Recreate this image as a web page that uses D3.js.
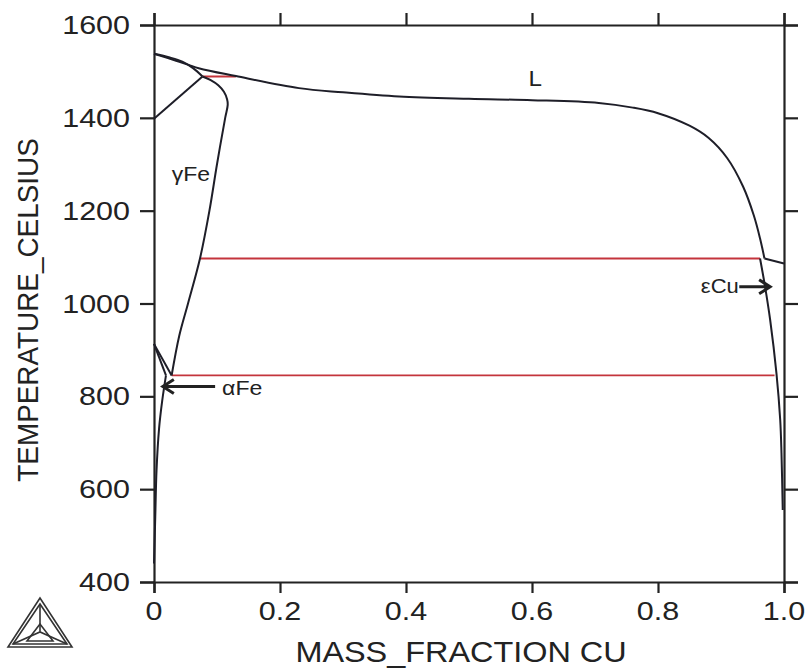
<!DOCTYPE html>
<html>
<head>
<meta charset="UTF-8">
<title>Fe-Cu</title>
<script src="https://d3js.org/d3.v7.min.js"></script>
<style>
  body {margin:0; background:#fff;}
  svg {display:block; background:#fff;}
  text {font-family:"Liberation Sans", Arial, sans-serif; fill:#222;}
  .frame path, .frame line {stroke:#222; stroke-width:2.2;}
  .curve {fill:none; stroke:#1e1e28; stroke-width:2;}
  .tie {fill:none; stroke:#c4343c; stroke-width:1.8;}
  .arrow {fill:none; stroke:#222; stroke-width:3;}
</style>
</head>
<body>
<script>
  // ticks
  var xTicks = [0, 0.2, 0.4, 0.6, 0.8, 1.0],
      xTickLabels = ["0", "0.2", "0.4", "0.6", "0.8", "1.0"],
      yTicks = [400, 600, 800, 1000, 1200, 1400, 1600];

  // phase boundaries, [mass fraction Cu, T celsius]
  var liquidus = [[0,1538],[0.035,1523],[0.071,1507],[0.13,1490],[0.23,1464],[0.3,1455],
                  [0.389,1446],[0.5,1441],[0.6,1438],[0.706,1432],[0.76,1422],[0.8,1410],
                  [0.85,1383],[0.88,1357],[0.91,1313],[0.935,1252],[0.952,1190],[0.962,1140],[0.969,1097]];
  var deltaSolidus = [[0,1538],[0.025,1530],[0.045,1521],[0.062,1507],[0.077,1489]];
  var deltaGamma = [[0,1398],[0.077,1489]];
  var gammaBoundary = [[0.077,1489],[0.090,1481],[0.102,1470],[0.111,1456],[0.116,1440],
                       [0.117,1428],[0.113,1400],[0.100,1300],[0.088,1200],[0.073,1097],
                       [0.054,1000],[0.040,930],[0.028,845]];
  var gammaAlpha = [[0,913],[0.028,845]];
  var alphaGamma = [[0,913],[0.019,845]];
  var alphaSolvus = [[0.019,845],[0.013,790],[0.008,730],[0.004,640],[0.002,540],[0,440]];
  var epsSolvus = [[0.962,1097],[0.970,1036],[0.978,965],[0.988,850],[0.994,749],[0.996,678],[0.998,555]];
  var cuLiquidus = [[0.969,1097],[1.0,1086]];
  // invariant lines (red)
  var peritecticFe = [[0.077,1489],[0.13,1489]];
  var peritecticCu = [[0.073,1097],[0.962,1097]];
  var eutectoid = [[0.028,845],[0.985,845]];

  var svg = d3.select("body").append("svg")
      .attr("width", 806)
      .attr("height", 669);

  var x = d3.scaleLinear().domain([0, 1]).range([154, 784]);
  var y = d3.scaleLinear().domain([400, 1600]).range([582, 25]);

  // frame with outward ticks on all sides
  svg.append("g").attr("class","frame").attr("transform","translate(154,0)")
     .call(d3.axisLeft(y).tickValues(yTicks).tickSize(14).tickFormat(""));
  svg.append("g").attr("class","frame").attr("transform","translate(784,0)")
     .call(d3.axisRight(y).tickValues(yTicks).tickSize(14).tickFormat(""));
  svg.append("g").attr("class","frame").attr("transform","translate(0,25)")
     .call(d3.axisTop(x).tickValues(xTicks).tickSize(12).tickFormat(""));
  svg.append("g").attr("class","frame").attr("transform","translate(0,582)")
     .call(d3.axisBottom(x).tickValues(xTicks).tickSize(11).tickFormat(""));

  function label(px, py, str, size, sx, anchor) {
    return svg.append("text")
      .attr("transform", "translate(" + px + "," + py + ") scale(" + sx + ",1)")
      .attr("text-anchor", anchor || "start")
      .style("font-size", size + "px")
      .text(str);
  }

  yTicks.forEach(function(t) { label(130, y(t) + 9, t, 25, 1.22, "end"); });
  xTicks.forEach(function(t, i) { label(x(t), 620, xTickLabels[i], 25, 1.22, "middle"); });

  label(461, 662, "MASS_FRACTION CU", 30, 1.08, "middle");
  svg.append("text")
     .attr("transform", "translate(38,310) rotate(-90) scale(0.93,1)")
     .attr("text-anchor", "middle")
     .style("font-size", "30px")
     .text("TEMPERATURE_CELSIUS");

  // curves
  var smooth = d3.line().x(function(d){return x(d[0]);}).y(function(d){return y(d[1]);})
                 .curve(d3.curveCatmullRom.alpha(0.5));
  var straight = d3.line().x(function(d){return x(d[0]);}).y(function(d){return y(d[1]);});

  [peritecticFe, peritecticCu, eutectoid].forEach(function(d) {
    svg.append("path").attr("class","tie").attr("d", straight(d));
  });
  [liquidus, deltaSolidus, gammaBoundary, alphaSolvus, epsSolvus].forEach(function(d) {
    svg.append("path").attr("class","curve").attr("d", smooth(d));
  });
  [deltaGamma, gammaAlpha, alphaGamma, cuLiquidus].forEach(function(d) {
    svg.append("path").attr("class","curve").attr("d", straight(d));
  });

  // phase labels
  label(x(0.605), y(1442) - 12, "L", 22, 1.1, "middle");
  label(x(0.028), 181, "\u03b3Fe", 20, 1.15, "start");
  label(x(0.108), 395, "\u03b1Fe", 21, 1.1, "start");
  label(x(0.868), 293, "\u03b5Cu", 20, 1.1, "start");

  // arrows
  function arrow(x1, x2, t) {
    var px1 = x(x1), px2 = x(x2), py = y(t), dir = px2 > px1 ? -1 : 1;
    svg.append("path").attr("class","arrow")
       .attr("d", "M" + px1 + "," + py + "L" + px2 + "," + py +
                  "M" + (px2 + dir*11) + "," + (py - 7) + "L" + px2 + "," + py +
                  "L" + (px2 + dir*11) + "," + (py + 7));
  }
  arrow(0.097, 0.014, 821);
  arrow(0.929, 0.978, 1036);

  // Thermo-Calc logo
  var logo = svg.append("g").attr("fill","none").attr("stroke","#333").attr("stroke-width",1.6);
  function tri(cx, top, half, bottom) {
    return "M" + cx + "," + top + "L" + (cx - half) + "," + bottom + "L" + (cx + half) + "," + bottom + "Z";
  }
  logo.append("path").attr("d", tri(40, 598, 32, 647));
  logo.append("path").attr("d", tri(40, 604, 27, 644));
  logo.append("path").attr("d", tri(40, 624, 13, 641));
  logo.append("path").attr("d", "M40,604L40,632M13,644L40,632L67,644");
</script>
</body>
</html>
